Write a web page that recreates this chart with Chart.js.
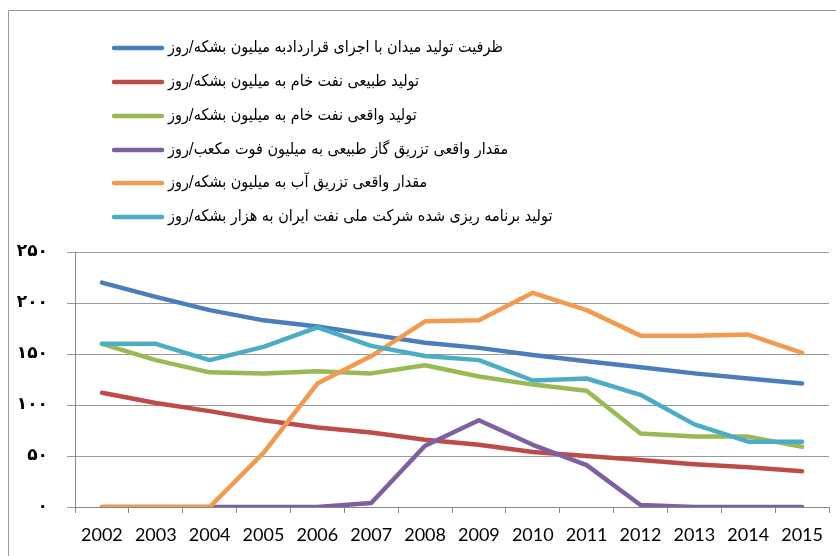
<!DOCTYPE html>
<html>
<head>
<meta charset="utf-8">
<script src="https://cdn.jsdelivr.net/npm/chart.js@4.4.1/dist/chart.umd.min.js"></script>
<style>
  html, body { margin: 0; padding: 0; background: #fff; }
  #wrap { width: 836px; height: 556px; position: relative; }
</style>
</head>
<body>
<div id="wrap"><canvas id="myChart"></canvas></div>
<script>
const years = ["2002","2003","2004","2005","2006","2007","2008","2009","2010","2011","2012","2013","2014","2015"];

// ظرفیت تولید میدان با اجرای قرارداد
const fieldCapacity = [220, 206, 193, 183, 177, 169, 161, 156, 149, 143, 137, 131, 126, 121];
// تولید طبیعی نفت خام
const naturalOutput = [112, 102, 94, 85, 78, 73, 66, 61, 54, 50, 46, 42, 39, 35];
// تولید واقعی نفت خام
const actualOutput = [160, 144, 132, 131, 133, 131, 139, 128, 120, 114, 72, 69, 69, 59];
// مقدار واقعی تزریق گاز
const gasInjection = [0, 0, 0, 0, 0, 4, 60, 85, 61, 41, 2, 0, 0, 0];
// مقدار واقعی تزریق آب
const waterInjection = [0, 0, 0, 53, 121, 148, 182, 183, 210, 193, 168, 168, 169, 151];
// تولید برنامه ریزی شده
const plannedOutput = [160, 160, 144, 157, 176, 158, 148, 144, 124, 126, 110, 81, 64, 64];

const seriesNames = [
  "ظرفیت تولید میدان با اجرای قراردادبه میلیون بشکه/روز",
  "تولید طبیعی نفت خام به میلیون بشکه/روز",
  "تولید واقعی نفت خام به میلیون بشکه/روز",
  "مقدار واقعی تزریق گاز طبیعی به میلیون فوت مکعب/روز",
  "مقدار واقعی تزریق آب به میلیون بشکه/روز",
  "تولید برنامه ریزی شده شرکت ملی نفت ایران به هزار بشکه/روز"
];
const seriesColors = ["#4a7ebb", "#be4b48", "#98b954", "#7d60a0", "#f19a50", "#4aacc5"];
const seriesValues = [fieldCapacity, naturalOutput, actualOutput, gasInjection, waterInjection, plannedOutput];

const yTicks = [0, 50, 100, 150, 200, 250];

const faDigits = "۰۱۲۳۴۵۶۷۸۹";
function toPersian(n) {
  return String(n).replace(/[0-9]/g, d => faDigits[d]);
}

// frame lines + legend drawn on the canvas
const frameAndLegend = {
  id: "frameAndLegend",
  beforeDraw(chart) {
    const ctx = chart.ctx;
    ctx.save();
    ctx.strokeStyle = "#999";
    ctx.lineWidth = 1;
    ctx.beginPath();
    ctx.moveTo(8.5, 556);
    ctx.lineTo(8.5, 10.5);
    ctx.lineTo(836, 10.5);
    ctx.stroke();
    ctx.restore();
  },
  afterDraw(chart) {
    const ctx = chart.ctx;
    const rows = [48, 82, 116, 150, 183, 217];
    ctx.save();
    seriesNames.forEach((name, i) => {
      const y = rows[i];
      ctx.strokeStyle = seriesColors[i];
      ctx.lineWidth = 4.5;
      ctx.lineCap = "round";
      ctx.beginPath();
      ctx.moveTo(114, y);
      ctx.lineTo(162, y);
      ctx.stroke();
      ctx.fillStyle = "#000";
      ctx.font = "16px 'DejaVu Sans Condensed', 'DejaVu Sans'";
      ctx.direction = "rtl";
      ctx.textAlign = "left";
      ctx.textBaseline = "middle";
      ctx.fillText(name, 168, y);
    });
    ctx.restore();
  }
};

new Chart(document.getElementById("myChart"), {
  type: "line",
  data: {
    labels: years,
    datasets: seriesValues.map((vals, i) => ({
      label: seriesNames[i],
      data: vals,
      borderColor: seriesColors[i],
      backgroundColor: seriesColors[i],
      borderWidth: 4.5,
      borderCapStyle: "round",
      borderJoinStyle: "round",
      pointRadius: 0,
      tension: 0,
      order: seriesValues.length - 1 - i
    }))
  },
  options: {
    responsive: true,
    maintainAspectRatio: false,
    animation: false,
    layout: { padding: { top: 252, right: 7, left: 0, bottom: 0 } },
    plugins: {
      legend: { display: false },
      tooltip: { enabled: false }
    },
    scales: {
      x: {
        offset: true,
        grid: { offset: true, drawOnChartArea: false, drawTicks: true, tickLength: 6, color: "#888" },
        border: { color: "#888", width: 1 },
        ticks: { color: "#000", font: { family: "Lato", size: 18 }, padding: 11, maxRotation: 0, autoSkip: false },
        afterFit(scale) { scale.height = 49; }
      },
      y: {
        min: 0,
        max: 250,
        afterBuildTicks(scale) { scale.ticks = yTicks.map(v => ({ value: v })); },
        grid: { color: "#999", tickLength: 8, lineWidth: 1 },
        border: { color: "#888", width: 1 },
        ticks: {
          color: "#000",
          font: { family: "DejaVu Sans", size: 17, weight: "bold" },
          padding: 19,
          callback: v => toPersian(v)
        },
        afterFit(scale) { scale.width = 75; }
      }
    }
  },
  plugins: [frameAndLegend]
});
</script>
</body>
</html>
